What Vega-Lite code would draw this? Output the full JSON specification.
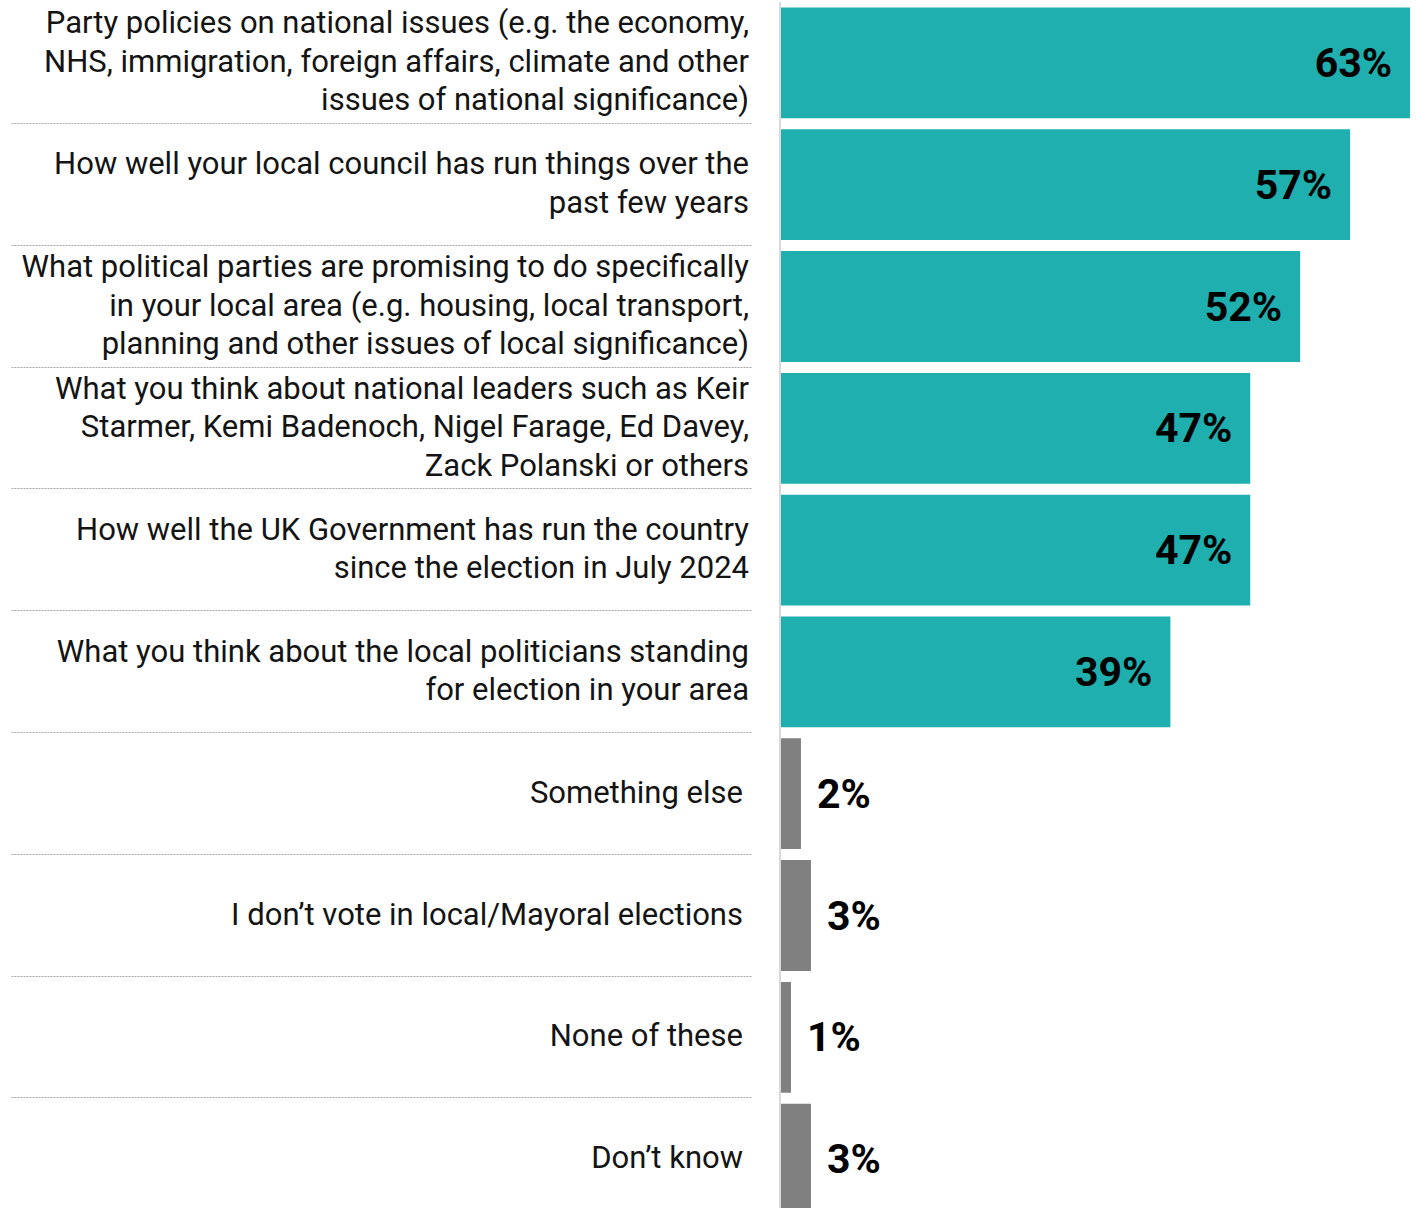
{
  "$schema": "https://vega.github.io/schema/vega-lite/v6.json",
  "autosize": {"type": "none"},
  "padding": {"left": 781, "top": 2, "right": 0, "bottom": 0},
  "width": 629,
  "height": 1218,
  "background": "white",
  "config": {"view": {"stroke": null}},
  "data": {
    "values": [
      {"label": "Party policies on national issues (e.g. the economy,|NHS, immigration, foreign affairs, climate and other|issues of national significance)", "value": 63, "group": "main", "nlines": 3},
      {"label": "How well your local council has run things over the|past few years", "value": 57, "group": "main", "nlines": 2},
      {"label": "What political parties are promising to do specifically|in your local area (e.g. housing, local transport,|planning and other issues of local significance)", "value": 52, "group": "main", "nlines": 3},
      {"label": "What you think about national leaders such as Keir|Starmer, Kemi Badenoch, Nigel Farage, Ed Davey,|Zack Polanski or others", "value": 47, "group": "main", "nlines": 3},
      {"label": "How well the UK Government has run the country|since the election in July 2024", "value": 47, "group": "main", "nlines": 2},
      {"label": "What you think about the local politicians standing|for election in your area", "value": 39, "group": "main", "nlines": 2},
      {"label": "Something else", "value": 2, "group": "other", "nlines": 1},
      {"label": "I don’t vote in local/Mayoral elections", "value": 3, "group": "other", "nlines": 1},
      {"label": "None of these", "value": 1, "group": "other", "nlines": 1},
      {"label": "Don’t know", "value": 3, "group": "other", "nlines": 1}
    ]
  },
  "transform": [
    {"calculate": "datum.value + '%'", "as": "pct"},
    {"calculate": "split(datum.label, '|')", "as": "lines"}
  ],
  "encoding": {
    "y": {
      "field": "label",
      "type": "nominal",
      "sort": null,
      "scale": {"paddingInner": 0.09, "paddingOuter": 0.045},
      "axis": {
        "title": null,
        "domain": false,
        "labels": false,
        "offset": 30,
        "tickSize": 740,
        "tickOffset": 60,
        "tickColor": "#a8a8a8",
        "tickWidth": 1,
        "tickDash": [2, 1]
      }
    }
  },
  "layer": [
    {
      "mark": {"type": "bar"},
      "encoding": {
        "x": {"field": "value", "type": "quantitative", "scale": {"domain": [0, 63], "nice": false}, "axis": null},
        "color": {"field": "group", "type": "nominal", "scale": {"domain": ["main", "other"], "range": ["#1EAFAE", "#808080"]}, "legend": null}
      }
    },
    {
      "mark": {"type": "rule", "color": "#d9d9d9", "strokeWidth": 2, "xOffset": -1},
      "encoding": {"x": {"datum": 0, "type": "quantitative"}, "y": null}
    },
    {
      "transform": [{"filter": "datum.nlines === 3"}],
      "mark": {"type": "text", "align": "right", "baseline": "middle", "dx": -32, "dy": -38.5, "lineHeight": 38.5, "font": "Roboto", "fontSize": 31, "color": "#141414"},
      "encoding": {"x": {"datum": 0, "type": "quantitative"}, "text": {"field": "lines"}}
    },
    {
      "transform": [{"filter": "datum.nlines === 2"}],
      "mark": {"type": "text", "align": "right", "baseline": "middle", "dx": -32, "dy": -19.25, "lineHeight": 38.5, "font": "Roboto", "fontSize": 31, "color": "#141414"},
      "encoding": {"x": {"datum": 0, "type": "quantitative"}, "text": {"field": "lines"}}
    },
    {
      "transform": [{"filter": "datum.nlines === 1"}],
      "mark": {"type": "text", "align": "right", "baseline": "middle", "dx": -38, "lineHeight": 38.5, "font": "Roboto", "fontSize": 31, "color": "#141414"},
      "encoding": {"x": {"datum": 0, "type": "quantitative"}, "text": {"field": "lines"}}
    },
    {
      "transform": [{"filter": "datum.group === 'main'"}],
      "mark": {"type": "text", "align": "right", "baseline": "middle", "dx": -18, "dy": 2, "font": "Roboto", "fontWeight": "bold", "fontSize": 41, "color": "#000000"},
      "encoding": {
        "x": {"field": "value", "type": "quantitative"},
        "text": {"field": "pct", "type": "nominal"}
      }
    },
    {
      "transform": [{"filter": "datum.group === 'other'"}],
      "mark": {"type": "text", "align": "left", "baseline": "middle", "dx": 16, "dy": 2, "font": "Roboto", "fontWeight": "bold", "fontSize": 41, "color": "#000000"},
      "encoding": {
        "x": {"field": "value", "type": "quantitative"},
        "text": {"field": "pct", "type": "nominal"}
      }
    }
  ]
}
